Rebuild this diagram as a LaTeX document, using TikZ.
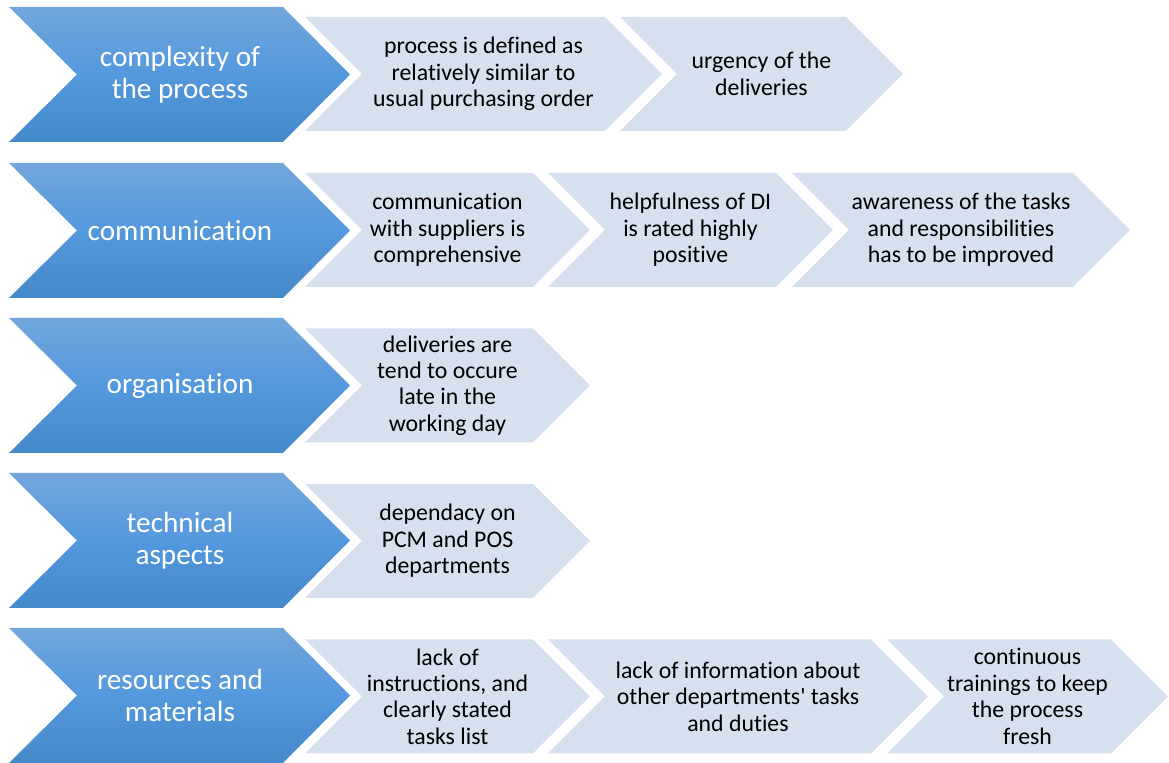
\documentclass[tikz,border=0pt]{standalone}
\usepackage{fontspec}
\setmainfont[Ligatures={TeX,NoCommon}]{Carlito}
\usepackage{xcolor}
\definecolor{bluetop}{RGB}{114,166,220}
\definecolor{bluemid}{RGB}{84,152,221}
\definecolor{bluebot}{RGB}{68,137,201}
\definecolor{paleblue}{RGB}{214,224,239}

\begin{document}
\begin{tikzpicture}[x=0.5pt,y=-0.5pt,
  headtxt/.style={text=white,align=center,font=\fontsize{14.6}{16}\selectfont},
  itemtxt/.style={text=black,align=center,font=\fontsize{11.9}{13.2}\selectfont}]
\useasboundingbox (0,0) rectangle (1169,763);
\foreach \t/\txt [count=\i] in {7/{complexity of\\the process},163/communication,318/organisation,473/{technical\\aspects},628/{resources and\\materials}}{
\shade[top color=bluetop,bottom color=bluebot,middle color=bluemid] (9,\t) -- (283,\t) -- (350,\t+67.5) -- (283,\t+135) -- (9,\t+135) -- (77,\t+67.5) -- cycle;
\node[headtxt] (head\i) at (180,\t+67.5) {\txt};
}
\foreach \l/\p/\yc/\txt/\nm in {
305/662/74/{process is defined as\\relatively similar to\\usual purchasing order}/proc,
620/903/74/{urgency of the\\deliveries}/urg,
305/590/230/{communication\\with suppliers is\\comprehensive}/supp,
548/833/230/{helpfulness of DI\\is rated highly\\positive}/help,
792/1130/230/{awareness of the tasks\\and responsibilities\\has to be improved}/aware,
305/590/385.5/{deliveries are\\tend to occure\\late in the\\working day}/late,
305/590/541/{dependacy on\\PCM and POS\\departments}/dep,
305/590/696.5/{lack of\\instructions, and\\clearly stated\\tasks list}/instr,
548/928/696.5/{lack of information about\\other departments\textquotesingle{} tasks\\and duties}/info,
887/1168/696.5/{continuous\\trainings to keep\\the process\\fresh}/fresh}{
\fill[paleblue] (\l,\yc-57) -- (\p-57,\yc-57) -- (\p,\yc) -- (\p-57,\yc+57) -- (\l,\yc+57) -- (\l+57,\yc) -- cycle;
\node[itemtxt] (\nm) at ({(\l+\p)/2},\yc) {\txt};
}
\end{tikzpicture}
\end{document}
